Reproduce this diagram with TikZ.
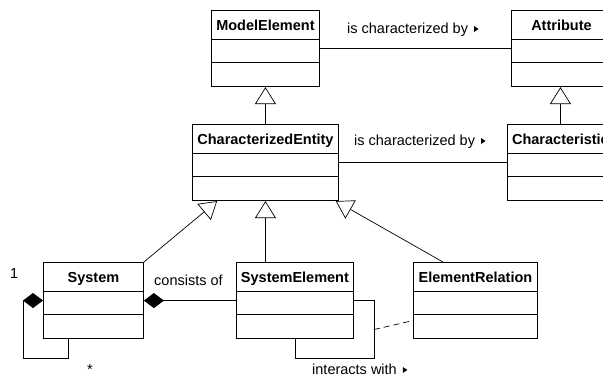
\documentclass[tikz,border=0pt]{standalone}
\usepackage{fontspec}
\setmainfont{Liberation Sans}
\usetikzlibrary{shapes.multipart, arrows.meta, calc}

\newcommand{\diagfont}{\fontsize{14.5}{17}\selectfont}
\newcommand{\clsparts}[1]{\textbf{#1}\rule[-9pt]{0pt}{28.5pt}\nodepart{two}\rule{0pt}{22pt}\nodepart{three}\rule{0pt}{23pt}}
\newcommand{\rtri}{\tikz[x=1pt,y=1pt,baseline=0pt]\fill (0,1) -- (0,7) -- (4.5,4) -- cycle;}

\begin{document}
\begin{tikzpicture}[x=1pt, y=-1pt, font=\diagfont,
    cls/.style={rectangle split, rectangle split parts=3, draw, line width=0.9pt,
                inner sep=0pt, align=center, anchor=north west},
    gen/.style={-{Triangle[open, length=17pt, width=21pt]}, line width=0.7pt},
    comp/.style={-{Diamond[length=20pt, width=15pt]}, line width=0.7pt},
    assoc/.style={line width=0.7pt},
    lbl/.style={anchor=base west, inner sep=0pt}
  ]
  \useasboundingbox (0,0) rectangle (603,376);
  \clip (0,0) rectangle (603,376);

  % classes
  \node[cls, text width=108pt] (model)   at (211,10)  {\clsparts{ModelElement}};
  \node[cls, text width=100pt] (attr)    at (511,10)  {\clsparts{Attribute}};
  \node[cls, text width=146pt] (charent) at (192,124) {\clsparts{CharacterizedEntity}};
  \node[cls, text width=106pt] (charac)  at (507,124) {\clsparts{Characteristic}};
  \node[cls, text width=100pt] (sys)     at (43,262)  {\clsparts{System}};
  \node[cls, text width=117pt] (syselem) at (236,262) {\clsparts{SystemElement}};
  \node[cls, text width=124pt] (elrel)   at (413,262) {\clsparts{ElementRelation}};

  % generalizations
  \draw[gen] (charent.north) -- (model.south);
  \draw[gen] (charac.north) -- (charac.north |- attr.south);
  \draw[gen] (syselem.north -| charent.south) -- (charent.south);
  \draw[gen] (sys.north east) -- ($(charent.south west)!0.171!(charent.south east)$);
  \draw[gen] ($(elrel.north west)!0.24!(elrel.north east)$)
    -- ($(charent.south west)!0.979!(charent.south east)$);

  % associations
  \draw[assoc] (model.east) -- (model.east -| attr.west);
  \draw[assoc] (charent.east) -- (charent.east -| charac.west);
  \draw[assoc] (syselem.east) -- ++(20,0) -- ++(0,29) coordinate (assocmid)
    -- ++(0,29) -| (syselem.south);
  \draw[assoc, dash pattern=on 6pt off 4pt] (assocmid) -- ([yshift=-20pt]elrel.west);

  % compositions
  \draw[comp] (syselem.west) -- (sys.east);
  \draw[comp] ([xshift=25pt]sys.south west) -- ++(0,19) -| ([xshift=-20pt]sys.west) -- (sys.west);

  % labels
  \node[lbl] (charlab1) at (347,33)  {is characterized by\hspace{6pt}\rtri};
  \node[lbl] (charlab2) at (354,145) {is characterized by\hspace{6pt}\rtri};
  \node[lbl] (conslab)  at (154,285) {consists of};
  \node[lbl] (interlab) at (312,374) {interacts with\hspace{6pt}\rtri};
  \node[lbl] (multone)  at (10,278)  {1};
  \node[anchor=base, inner sep=0pt] (multstar) at (90,374) {*};
\end{tikzpicture}
\end{document}
